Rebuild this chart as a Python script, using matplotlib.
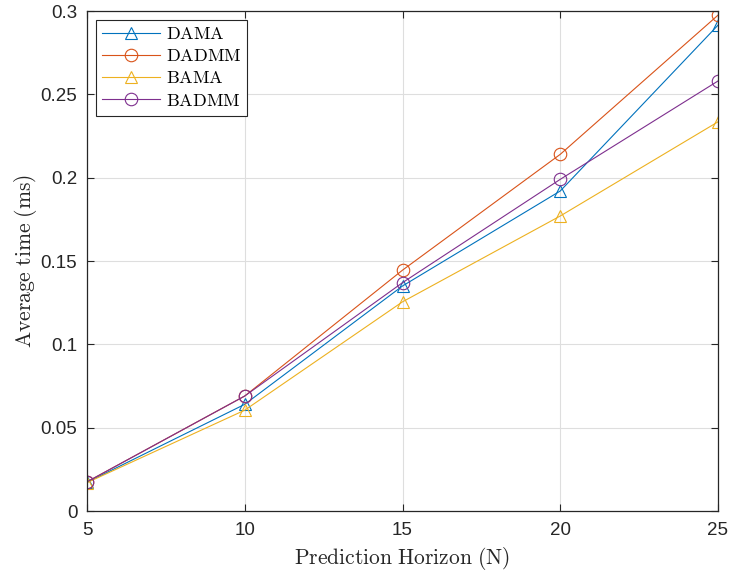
import numpy as np
import matplotlib.pyplot as plt

# Data
horizon = [5, 10, 15, 20, 25]
dama = [0.0172, 0.0640, 0.1350, 0.1920, 0.2915]
dadmm = [0.0175, 0.0690, 0.1445, 0.2140, 0.2975]
bama = [0.0170, 0.0605, 0.1255, 0.1770, 0.2335]
badmm = [0.0175, 0.0690, 0.1370, 0.1990, 0.2580]

series = [
    ('DAMA', dama, '#0072BD', '^'),
    ('DADMM', dadmm, '#D95319', 'o'),
    ('BAMA', bama, '#EDB120', '^'),
    ('BADMM', badmm, '#7E2F8E', 'o'),
]

plt.rcParams['font.family'] = ['Liberation Sans', 'DejaVu Sans']
plt.rcParams['mathtext.fontset'] = 'cm'

fig = plt.figure(figsize=(7.31, 5.74), dpi=100)
ax = fig.add_axes([87 / 731, 1 - 511 / 574, (718 - 87) / 731, (511 - 11) / 574])

for name, vals, color, marker in series:
    ax.plot(horizon, vals, color=color, lw=0.8, marker=marker, markersize=9,
            markerfacecolor='none', markeredgewidth=0.8, label=r'$\mathrm{%s}$' % name)

ax.set_xlim(5, 25)
ax.set_ylim(0, 0.3)
ax.set_xticks([5, 10, 15, 20, 25])
ax.set_yticks(np.arange(0, 0.31, 0.05))
ax.set_yticklabels(['0', '0.05', '0.1', '0.15', '0.2', '0.25', '0.3'])
ax.grid(True, color='#dedede', lw=0.8)
ax.set_axisbelow(True)
ax.tick_params(direction='in', top=True, right=True, labelsize=13.5,
               colors='#262626', length=5, width=0.8)
ax.tick_params(axis='x', pad=8)
ax.tick_params(axis='y', pad=7)
for sp in ax.spines.values():
    sp.set_color('#262626')
    sp.set_linewidth(0.9)

ax.set_xlabel(r'$\mathrm{Prediction\ Horizon\ (N)}$', fontsize=15.5,
              color='#262626', labelpad=4)
ax.set_ylabel(r'$\mathrm{Average\ time\ (ms)}$', fontsize=15.5,
              color='#262626', labelpad=1)

leg = ax.legend(loc='upper left', prop={'size': 13},
                fancybox=False, edgecolor='#262626', framealpha=1,
                handlelength=3.2, borderpad=0.35, labelspacing=0.28,
                handletextpad=0.3, borderaxespad=0.5)
leg.get_frame().set_linewidth(0.8)

fig.savefig('out.png', dpi=100)
